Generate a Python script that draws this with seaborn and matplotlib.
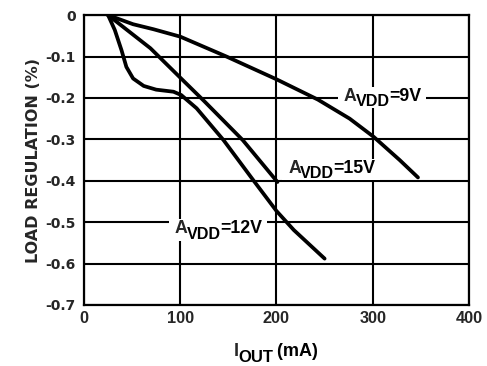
import matplotlib
matplotlib.use("Agg")
import matplotlib.pyplot as plt
from matplotlib.patches import Rectangle
from matplotlib.transforms import Bbox
import seaborn as sns
import pandas as pd

# data
x_9v = [25, 51, 72, 100, 148, 200, 243, 276, 301, 328, 347]
y_9v = [0.0, -0.022, -0.034, -0.052, -0.100, -0.155, -0.204, -0.250, -0.294, -0.350, -0.392]

x_15v = [25, 69, 100, 125, 165, 201]
y_15v = [0.0, -0.080, -0.151, -0.208, -0.302, -0.403]

x_12v = [25, 32, 39, 44, 51, 62, 75, 93, 101, 117, 145, 176, 200, 218, 250]
y_12v = [0.0, -0.036, -0.085, -0.125, -0.153, -0.171, -0.180, -0.185, -0.193, -0.225,
         -0.302, -0.399, -0.473, -0.519, -0.588]

x_ticks = [0, 100, 200, 300, 400]
y_ticks = [0, -0.1, -0.2, -0.3, -0.4, -0.5, -0.6, -0.7]
y_tick_labels = ["0", "-0.1", "-0.2", "-0.3", "-0.4", "-0.5", "-0.6", "-0.7"]

labels = ["9V", "15V", "12V"]

sns.set_style("white")
plt.rcParams['font.family'] = ['Liberation Sans', 'DejaVu Sans']

frames = []
for name, xs, ys in [("9V", x_9v, y_9v), ("15V", x_15v, y_15v), ("12V", x_12v, y_12v)]:
    frames.append(pd.DataFrame({"iout": xs, "reg": ys, "avdd": name}))
df = pd.concat(frames, ignore_index=True)

fig = plt.figure(figsize=(4.87, 3.66), dpi=100)
ax = fig.add_axes([0.1725, 0.1667, 0.7905, 0.792])

for name in labels:
    sub = df[df["avdd"] == name]
    sns.lineplot(data=sub, x="iout", y="reg", ax=ax, color="black", lw=2.7,
                 sort=False, estimator=None, legend=False, zorder=3,
                 solid_capstyle="round", solid_joinstyle="round")

ax.set_xlim(0, 400)
ax.set_ylim(-0.7, 0)
ax.set_xticks(x_ticks)
ax.set_yticks(y_ticks)
ax.set_yticklabels(y_tick_labels)
ax.tick_params(axis="x", length=0, labelsize=11.7, pad=4)
ax.tick_params(axis="y", length=0, labelsize=10, pad=6)
for lab in ax.get_xticklabels():
    lab.set_fontweight("bold")
for lab in ax.get_yticklabels():
    lab.set_fontweight("bold")
    lab.set_family("DejaVu Sans")
ax.grid(True, color="black", lw=1.5)
for sp in ax.spines.values():
    sp.set_visible(True)
    sp.set_color("black")
    sp.set_linewidth(1.6)
ax.set_xlabel("")
ax.set_ylabel("LOAD REGULATION (%)", fontsize=11.5, fontweight="bold", family="DejaVu Sans",
              labelpad=3)


def sub_text(x, y, main, sub, rest, size, subsize, drop, transform, zorder=5):
    kw = dict(fontweight="bold", color="black", annotation_clip=False, zorder=zorder)
    t1 = ax.text(x, y, main, fontsize=size, fontweight="bold", ha="left", va="baseline",
                 transform=transform, zorder=zorder, clip_on=False)
    t2 = ax.annotate(sub, xy=(1, 0), xycoords=t1, xytext=(-0.8, -drop),
                     textcoords="offset points", fontsize=subsize, ha="left", va="bottom", **kw)
    t3 = ax.annotate(rest, xy=(1, 0), xycoords=t2, xytext=(-0.6, drop),
                     textcoords="offset points", fontsize=size, ha="left", va="bottom", **kw)
    return [t1, t2, t3]


label_pos = {"9V": (270.0, -0.207), "15V": (212.3, -0.382), "12V": (94.5, -0.527)}
groups = []
for name in labels:
    x, y = label_pos[name]
    groups.append(sub_text(x, y, "A", "VDD", "=" + name, 12.8, 11.6, 3.0, ax.transData))

# x axis label I_OUT (mA)
xl_x = (234 - 84) / 385 * 400
sub_text(xl_x, -0.7 - (356 - 305) / 414.3, "I", "OUT", " (mA)", 13, 12, 3.5, ax.transData)

# white boxes behind the curve labels
fig.canvas.draw()
renderer = fig.canvas.get_renderer()
inv = ax.transData.inverted()
for g in groups:
    bb = Bbox.union([t.get_window_extent(renderer) for t in g])
    x0, y0 = inv.transform((bb.x0 - 6, bb.y0 + 1))
    x1, y1 = inv.transform((bb.x1 + 5, bb.y1 + 1))
    ax.add_patch(Rectangle((x0, y0), x1 - x0, y1 - y0, facecolor="white",
                           edgecolor="none", zorder=2.6))

fig.savefig("out.png", dpi=100)
